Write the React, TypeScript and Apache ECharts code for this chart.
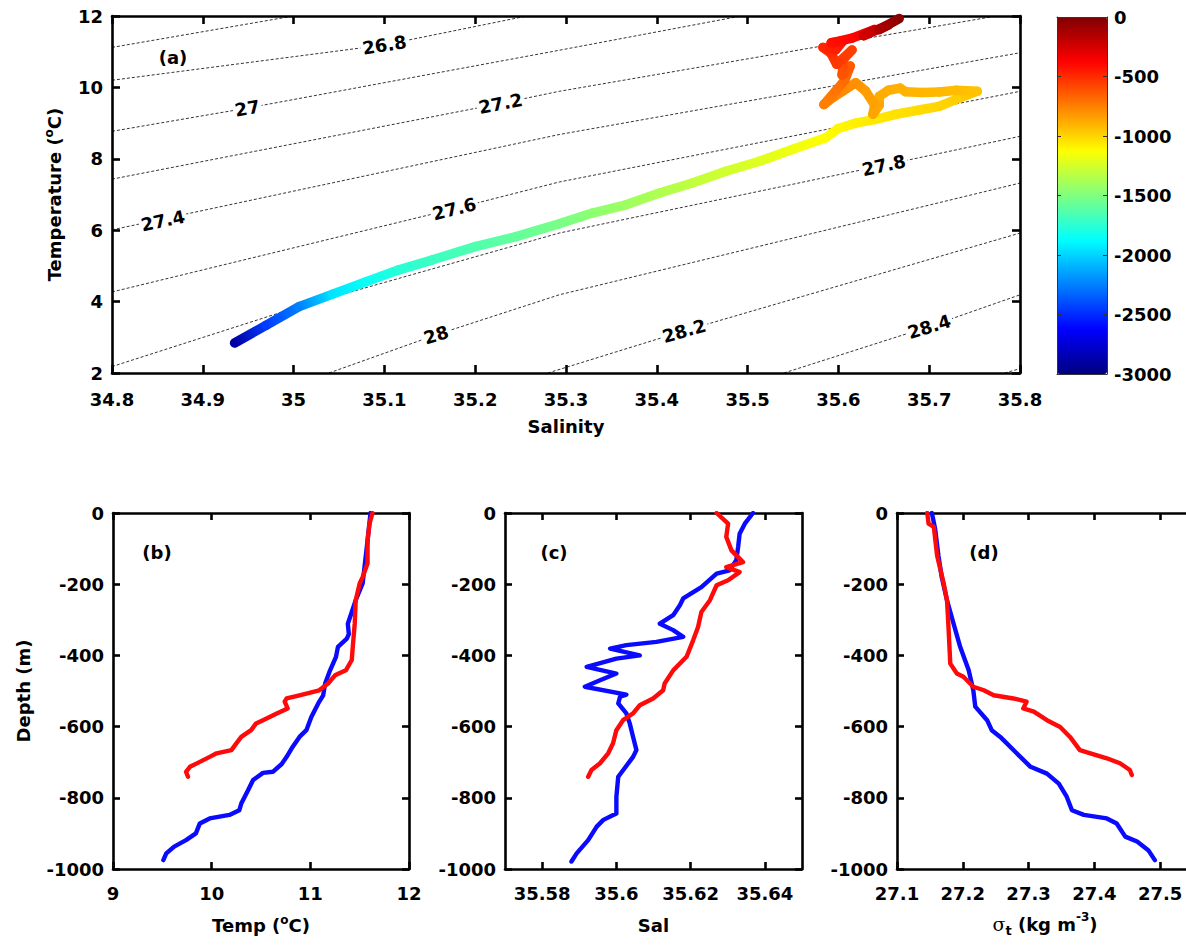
import React, { useEffect, useRef } from 'react';
import * as echarts from 'echarts';

const FONT = '"DejaVu Sans", Verdana, sans-serif';

// ---------------- Panel (a): T-S diagram ----------------
const salinityTicks = [34.8, 34.9, 35, 35.1, 35.2, 35.3, 35.4, 35.5, 35.6, 35.7, 35.8];
const temperatureTicks = [2, 4, 6, 8, 10, 12];
const colorbarTicks = [-3000, -2500, -2000, -1500, -1000, -500, 0];

// CTD trace in T-S space, coloured by depth (m)
const tsSalinity = [34.935, 34.970, 35.006, 35.043, 35.080, 35.116, 35.153, 35.200, 35.245, 35.2925,
  35.329, 35.366, 35.403, 35.439, 35.476, 35.513, 35.549, 35.586, 35.600, 35.619,
  35.640, 35.662, 35.692, 35.711, 35.729, 35.743, 35.753, 35.730, 35.711, 35.692,
  35.674, 35.668, 35.655, 35.645, 35.645, 35.638, 35.640, 35.630, 35.619, 35.605,
  35.594, 35.584, 35.597, 35.607, 35.613, 35.604, 35.606, 35.615, 35.598, 35.592,
  35.583, 35.597, 35.605, 35.592, 35.615, 35.640, 35.628, 35.655, 35.645, 35.667];
const tsTemperature = [2.84, 3.34, 3.86, 4.21, 4.56, 4.89, 5.17, 5.54, 5.82, 6.18,
  6.48, 6.71, 7.04, 7.32, 7.65, 7.93, 8.26, 8.59, 8.85, 9.0,
  9.1, 9.24, 9.38, 9.47, 9.66, 9.80, 9.89, 9.92, 9.87, 9.86,
  9.88, 9.98, 9.92, 9.75, 9.5, 9.25, 9.5, 9.9, 10.13, 9.9,
  9.72, 9.52, 9.9, 10.2, 10.6, 10.35, 10.8, 11.05, 10.65, 10.95,
  11.12, 11.05, 11.3, 11.25, 11.38, 11.62, 11.45, 11.75, 11.62, 11.93];
const tsDepth = [-2900, -2450, -2250, -1950, -1850, -1760, -1700, -1640, -1580, -1520,
  -1460, -1410, -1360, -1310, -1260, -1220, -1170, -1120, -1100, -1080,
  -1060, -1040, -1020, -1000, -980, -960, -950, -930, -920, -910,
  -900, -895, -890, -880, -870, -860, -850, -840, -800, -780,
  -765, -750, -720, -690, -640, -620, -590, -560, -540, -510,
  -480, -460, -430, -420, -390, -260, -240, -160, -140, -30];

// isopycnals (sigma-t)
const isoLevels = ['26.6', '26.8', '27', '27.2', '27.4', '27.6', '27.8', '28', '28.2', '28.4', '28.6'];
const isoSalinity = [
  [34.8, 35.0],
  [34.8, 35.1, 35.257],
  [34.8, 34.949, 35.2925, 35.493],
  [34.8, 35.228, 35.2925, 35.774],
  [34.8, 35.2925, 35.8],
  [34.8, 35.177, 35.2925, 35.8],
  [34.8, 35.006, 35.2925, 35.65, 35.8],
  [35.039, 35.157, 35.2925, 35.8],
  [35.28, 35.43, 35.8],
  [35.54, 35.70, 35.8],
  [35.783, 35.8],
];
const isoTemperature = [
  [11.12, 12],
  [10.2, 11.19, 12],
  [8.77, 9.42, 11.04, 12],
  [7.43, 9.55, 9.89, 12],
  [6.01, 8.68, 10.97],
  [4.27, 6.6, 7.35, 9.89],
  [2.18, 3.86, 5.92, 7.82, 8.63],
  [2.0, 3.07, 4.19, 7.32],
  [2.0, 3.18, 5.92],
  [2.0, 3.3, 4.19],
  [2.0, 2.12],
];
const isoLabelText = ['26.8', '27', '27.2', '27.4', '27.6', '27.8', '28', '28.2', '28.4'];
const isoLabelSalinity = [35.10, 34.949, 35.228, 34.856, 35.177, 35.65, 35.157, 35.43, 35.70];
const isoLabelTemperature = [11.19, 9.42, 9.55, 6.27, 6.6, 7.82, 3.07, 3.18, 3.3];
const isoLabelAngle = [9, 10, 11, 12, 14, 12, 17, 16, 17];

// ---------------- Panels (b)-(d): profiles ----------------
const depthTicks = [-1000, -800, -600, -400, -200, 0];
const tempTicks = [9, 10, 11, 12];
const salTicks = [35.58, 35.6, 35.62, 35.64];
const sigmaTicks = [27.1, 27.2, 27.3, 27.4, 27.5];

const tempBlueDepth = [0, -77, -198, -245, -311, -340, -353, -376, -404, -442, -479, -512, -535, -573, -610, -629, -657, -685, -705, -727, -730, -750, -778, -816, -835, -848, -858, -872, -900, -919, -937, -956, -975];
const tempBlue = [11.61, 11.58, 11.53, 11.46, 11.38, 11.39, 11.37, 11.28, 11.26, 11.20, 11.15, 11.13, 11.08, 11.01, 10.96, 10.89, 10.82, 10.76, 10.71, 10.62, 10.52, 10.42, 10.37, 10.30, 10.28, 10.18, 9.98, 9.88, 9.84, 9.74, 9.62, 9.54, 9.51];
const tempRedDepth = [0, -30, -77, -142, -180, -198, -245, -311, -376, -413, -442, -456, -479, -498, -512, -521, -530, -549, -563, -582, -591, -610, -629, -647, -666, -675, -685, -699, -713, -727, -741];
const tempRed = [11.63, 11.60, 11.58, 11.58, 11.53, 11.50, 11.46, 11.45, 11.43, 11.42, 11.36, 11.25, 11.18, 11.09, 10.89, 10.76, 10.74, 10.77, 10.66, 10.52, 10.45, 10.40, 10.30, 10.25, 10.20, 10.05, 9.98, 9.88, 9.78, 9.74, 9.76];

const salBlueDepth = [0, -30, -58, -95, -133, -161, -170, -208, -240, -259, -287, -311, -329, -348, -362, -371, -381, -400, -409, -432, -451, -470, -488, -510, -516, -535, -563, -591, -629, -666, -685, -741, -797, -844, -862, -881, -919, -956, -979];
const salBlue = [35.6368, 35.6346, 35.6332, 35.6328, 35.6323, 35.6305, 35.627, 35.6229, 35.618, 35.6171, 35.6153, 35.6117, 35.6153, 35.618, 35.6108, 35.6027, 35.5983, 35.6063, 35.6, 35.592, 35.6, 35.5956, 35.5915, 35.6027, 35.601, 35.6005, 35.6027, 35.6036, 35.6045, 35.6054, 35.6045, 35.6005, 35.6, 35.6, 35.5965, 35.5947, 35.5924, 35.5893, 35.5879];
const salRedDepth = [0, -30, -67, -105, -138, -152, -166, -189, -203, -245, -278, -320, -357, -404, -442, -479, -498, -521, -540, -563, -582, -610, -647, -675, -703, -722, -741];
const salRed = [35.627, 35.6301, 35.6296, 35.631, 35.6341, 35.6296, 35.6332, 35.6301, 35.627, 35.6252, 35.6229, 35.622, 35.6207, 35.6189, 35.6153, 35.613, 35.6126, 35.6099, 35.6063, 35.6045, 35.6018, 35.60, 35.5991, 35.5978, 35.5956, 35.5933, 35.5924];

const sigBlueDepth = [0, -45, -120, -180, -245, -311, -376, -442, -498, -544, -582, -610, -629, -675, -713, -732, -760, -797, -835, -848, -858, -872, -909, -923, -947, -975];
const sigBlue = [27.153, 27.158, 27.163, 27.168, 27.176, 27.186, 27.196, 27.209, 27.216, 27.219, 27.237, 27.244, 27.257, 27.282, 27.303, 27.328, 27.346, 27.358, 27.366, 27.384, 27.419, 27.434, 27.447, 27.465, 27.482, 27.492];
const sigRedDepth = [0, -30, -39, -120, -198, -245, -311, -423, -451, -460, -488, -498, -512, -521, -530, -549, -558, -582, -601, -629, -666, -675, -689, -703, -722, -736];
const sigRed = [27.146, 27.148, 27.156, 27.161, 27.171, 27.176, 27.178, 27.181, 27.191, 27.201, 27.216, 27.232, 27.247, 27.277, 27.297, 27.292, 27.308, 27.328, 27.348, 27.363, 27.378, 27.394, 27.419, 27.439, 27.454, 27.457];

// ---------------- helpers ----------------
const DEPTH_MIN = -3000;
const DEPTH_MAX = 0;
const clamp = (v: number) => Math.max(0, Math.min(1, v));
function jet(f: number): string {
  const r = clamp(1.5 - Math.abs(4 * f - 3));
  const g = clamp(1.5 - Math.abs(4 * f - 2));
  const b = clamp(1.5 - Math.abs(4 * f - 1));
  return `rgb(${Math.round(r * 255)},${Math.round(g * 255)},${Math.round(b * 255)})`;
}
const depthColor = (d: number) => jet((d - DEPTH_MIN) / (DEPTH_MAX - DEPTH_MIN));
const jetStops = Array.from({ length: 17 }, (_, k) => jet(k / 16));

const fmt = (v: number) => String(Math.round(v * 1000) / 1000);
const frame = { color: '#000', width: 2.6 };
const tickFont = { fontFamily: FONT, fontWeight: 'bold', fontSize: 18, color: '#000' };
const supStyle = { fontFamily: FONT, fontWeight: 'bold', fontSize: 12, color: '#000', verticalAlign: 'top', lineHeight: 12 };
const subStyle = { fontFamily: FONT, fontWeight: 'bold', fontSize: 13, color: '#000', verticalAlign: 'bottom', lineHeight: 14 };
const nameStyle = (lineHeight: number) => ({
  fontFamily: FONT, fontWeight: 'bold', fontSize: 18, color: '#000', lineHeight,
  rich: {
    sup: supStyle,
    sub: subStyle,
    sig: { fontFamily: '"DejaVu Serif", serif', fontWeight: 'normal', fontSize: 19, color: '#000' },
  },
});

function xPair(gi: number, min: number, max: number, ticks: number[], tickLen: number, margin: number,
  name: string, nameGap: number, lh: number) {
  return [
    {
      type: 'value', gridIndex: gi, position: 'bottom', min, max,
      axisLine: { show: true, onZero: false, lineStyle: frame },
      axisTick: { show: true, inside: true, length: tickLen, lineStyle: frame, customValues: ticks },
      axisLabel: { show: true, margin, customValues: ticks, formatter: fmt, ...tickFont },
      splitLine: { show: false },
      name, nameLocation: 'middle', nameGap, nameTextStyle: nameStyle(lh),
    },
    {
      type: 'value', gridIndex: gi, position: 'top', min, max,
      axisLine: { show: true, onZero: false, lineStyle: frame },
      axisTick: { show: true, inside: true, length: tickLen, lineStyle: frame, customValues: ticks },
      axisLabel: { show: false },
      splitLine: { show: false },
    },
  ];
}
function yPair(gi: number, min: number, max: number, ticks: number[], tickLen: number, margin: number,
  name: string, nameGap: number, lh: number) {
  return [
    {
      type: 'value', gridIndex: gi, position: 'left', min, max,
      axisLine: { show: true, onZero: false, lineStyle: frame },
      axisTick: { show: true, inside: true, length: tickLen, lineStyle: frame, customValues: ticks },
      axisLabel: { show: true, margin, customValues: ticks, formatter: fmt, ...tickFont },
      splitLine: { show: false },
      name, nameLocation: 'middle', nameGap, nameTextStyle: nameStyle(lh),
    },
    {
      type: 'value', gridIndex: gi, position: 'right', min, max,
      axisLine: { show: true, onZero: false, lineStyle: frame },
      axisTick: { show: true, inside: true, length: tickLen, lineStyle: frame, customValues: ticks },
      axisLabel: { show: false },
      splitLine: { show: false },
    },
  ];
}

function profile(gi: number, xs: number[], ds: number[], color: string, z: number) {
  return {
    type: 'line', xAxisIndex: 2 * gi, yAxisIndex: 2 * gi,
    data: xs.map((x, i) => [x, ds[i]]),
    symbol: 'none', silent: true, z,
    lineStyle: { color, width: 4.4, join: 'round', cap: 'round' },
  };
}

function buildOption() {
  const grid = [
    { left: 112, top: 16, width: 908, height: 357 },
    { left: 113, top: 513, width: 296, height: 356 },
    { left: 505, top: 513, width: 297, height: 356 },
    { left: 897, top: 513, width: 296, height: 356 },
    { left: 1057, top: 17, width: 50, height: 357 },
  ].map((g) => ({ ...g, containLabel: false, outerBoundsMode: 'none', show: false }));

  const xAxis = [
    ...xPair(0, 34.8, 35.8, salinityTicks, 8, 17, 'Salinity', 44, 18),
    ...xPair(1, 9, 12, tempTicks, 7, 15, 'Temp ({sup|o}C)', 45, 22),
    ...xPair(2, 35.57, 35.65, salTicks, 7, 15, 'Sal', 47, 18),
    ...xPair(3, 27.1, 27.55, sigmaTicks, 7, 15, '{sig|σ}{sub|t} (kg m{sup|-3})', 42, 26),
    { type: 'value', gridIndex: 4, position: 'bottom', min: 0, max: 1, z: 10,
      axisLine: { show: true, onZero: false, lineStyle: { color: '#333', width: 1 } },
      axisTick: { show: false }, axisLabel: { show: false }, splitLine: { show: false } },
    { type: 'value', gridIndex: 4, position: 'top', min: 0, max: 1, z: 10,
      axisLine: { show: true, onZero: false, lineStyle: { color: '#333', width: 1 } },
      axisTick: { show: false }, axisLabel: { show: false }, splitLine: { show: false } },
  ];
  const yAxis = [
    ...yPair(0, 2, 12, temperatureTicks, 8, 9, 'Temperature ({sup|o}C)', 47, 22),
    ...yPair(1, -1000, 0, depthTicks, 7, 9, 'Depth (m)', 81, 18),
    ...yPair(2, -1000, 0, depthTicks, 7, 9, '', 0, 18),
    ...yPair(3, -1000, 0, depthTicks, 7, 9, '', 0, 18),
    { type: 'value', gridIndex: 4, position: 'left', min: DEPTH_MIN, max: DEPTH_MAX, z: 10,
      axisLine: { show: true, onZero: false, lineStyle: { color: '#333', width: 1 } },
      axisTick: { show: true, inside: true, length: 4, lineStyle: { color: '#333', width: 1 }, customValues: colorbarTicks },
      axisLabel: { show: false }, splitLine: { show: false } },
    { type: 'value', gridIndex: 4, position: 'right', min: DEPTH_MIN, max: DEPTH_MAX, z: 10,
      axisLine: { show: true, onZero: false, lineStyle: { color: '#333', width: 1 } },
      axisTick: { show: true, inside: true, length: 4, lineStyle: { color: '#333', width: 1 }, customValues: colorbarTicks },
      axisLabel: { show: true, margin: 7, customValues: colorbarTicks, formatter: fmt, ...tickFont },
      splitLine: { show: false } },
  ];

  const series: any[] = [];
  isoLevels.forEach((lvl, i) => {
    series.push({
      type: 'line', name: 'sigma ' + lvl, xAxisIndex: 0, yAxisIndex: 0,
      data: isoSalinity[i].map((s, j) => [s, isoTemperature[i][j]]),
      symbol: 'none', silent: true, z: 1,
      lineStyle: { color: '#000', width: 0.8, type: [3, 2] },
    });
  });
  series.push({
    type: 'scatter', name: 'isopycnal labels', xAxisIndex: 0, yAxisIndex: 0, z: 2, silent: true,
    symbolSize: 1, itemStyle: { color: 'rgba(255,255,255,0)' },
    data: isoLabelText.map((t, i) => ({
      name: t, value: [isoLabelSalinity[i], isoLabelTemperature[i]],
      label: { rotate: isoLabelAngle[i] },
    })),
    label: {
      show: true, position: 'inside', formatter: (p: any) => p.name,
      fontFamily: FONT, fontWeight: 'bold', fontSize: 18, color: '#000',
      textBorderWidth: 0, textBorderColor: 'transparent', opacity: 1,
      backgroundColor: '#fff', padding: [0, 2],
    },
  });
  const trackIndex = series.length;
  const n = tsSalinity.length;
  series.push({
    type: 'custom', name: 'CTD', xAxisIndex: 0, yAxisIndex: 0, z: 5, silent: true,
    dimensions: ['sal', 'temp', 'depth'],
    encode: { x: 0, y: 1 },
    data: tsSalinity.map((s, i) => [s, tsTemperature[i], tsDepth[i]]),
    renderItem: (params: any, api: any) => {
      const i = params.dataIndex;
      if (i >= n - 1) return { type: 'group', children: [] };
      const p1 = api.coord([tsSalinity[i], tsTemperature[i]]);
      const p2 = api.coord([tsSalinity[i + 1], tsTemperature[i + 1]]);
      const grad = new echarts.graphic.LinearGradient(p1[0], p1[1], p2[0], p2[1] + 0.01, [
        { offset: 0, color: depthColor(tsDepth[i]) },
        { offset: 1, color: depthColor(tsDepth[i + 1]) },
      ], true);
      return {
        type: 'line',
        shape: { x1: p1[0], y1: p1[1], x2: p2[0], y2: p2[1] },
        style: { stroke: grad, fill: 'none', lineWidth: 9.5, lineCap: 'round' },
      };
    },
  });
  series.push(profile(1, tempBlue, tempBlueDepth, '#0a0aff', 3));
  series.push(profile(1, tempRed, tempRedDepth, '#ff0a0a', 4));
  series.push(profile(2, salBlue, salBlueDepth, '#0a0aff', 3));
  series.push(profile(2, salRed, salRedDepth, '#ff0a0a', 4));
  series.push(profile(3, sigBlue, sigBlueDepth, '#0a0aff', 3));
  series.push(profile(3, sigRed, sigRedDepth, '#ff0a0a', 4));

  const letter = (text: string, x: number, y: number) => ({
    type: 'text', x, y, z: 20, silent: true,
    style: { text, fill: '#000', fontFamily: FONT, fontWeight: 'bold', fontSize: 18, align: 'center', verticalAlign: 'middle' },
  });

  return {
    animation: false,
    backgroundColor: '#fff',
    textStyle: { fontFamily: FONT },
    grid, xAxis, yAxis, series,
    visualMap: {
      type: 'continuous', min: DEPTH_MIN, max: DEPTH_MAX, dimension: 2, seriesIndex: trackIndex,
      left: 1057, top: 17, itemWidth: 50, itemHeight: 357, padding: 0,
      calculable: false, hoverLink: false, text: null,
      inRange: { color: jetStops },
    },
    graphic: [
      letter('(a)', 173, 57),
      letter('(b)', 157, 552),
      letter('(c)', 554, 552),
      letter('(d)', 984, 552),
    ],
  };
}

export default function App() {
  const ref = useRef<HTMLDivElement>(null);
  useEffect(() => {
    if (!ref.current) return;
    const chart = echarts.init(ref.current, null, { renderer: 'svg' });
    chart.setOption(buildOption() as any);
    return () => chart.dispose();
  }, []);
  return (
    <div
      ref={ref}
      style={{ position: 'fixed', left: 0, top: 0, width: 1186, height: 945, background: '#fff' }}
    />
  );
}
